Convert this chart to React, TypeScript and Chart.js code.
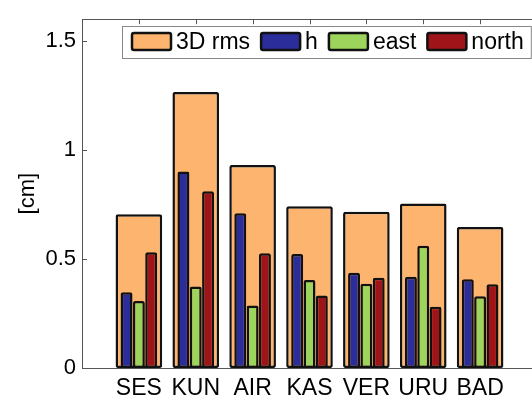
import React, { useEffect, useRef } from 'react';
import { Chart, registerables } from 'chart.js';

Chart.register(...registerables);

// ---- data ----
const stations = ['SES', 'KUN', 'AIR', 'KAS', 'VER', 'URU', 'BAD'];
const rms3d = [0.705, 1.266, 0.931, 0.742, 0.717, 0.755, 0.647];
const hVals = [0.347, 0.901, 0.71, 0.523, 0.437, 0.419, 0.407];
const eastVals = [0.307, 0.374, 0.287, 0.404, 0.386, 0.561, 0.329];
const northVals = [0.531, 0.811, 0.526, 0.332, 0.414, 0.281, 0.384];
const yTicks = [0, 0.5, 1, 1.5];
const yTickLabels = ['0', '0.5', '1', '1.5'];
const yMax = 1.6;
const seriesLabels = ['3D rms', 'h', 'east', 'north'];
const seriesColors = ['#FDB46F', '#2B2D9B', '#9CD45C', '#9E1419'];

const FONT = '"Liberation Sans", Arial, Helvetica, sans-serif';
const TEXT = '#000';

// pad with an empty slot on each side so the x range runs 0..8 like the original axes
const padArr = (a: (number | null)[]) => [null, ...a, null];
const xLabels = ['', ...stations, ''];

const framePlugin = {
  id: 'frame',
  beforeDatasetsDraw(chart: any) {
    const { ctx, chartArea: a, scales } = chart;
    ctx.save();
    ctx.strokeStyle = '#555';
    ctx.lineWidth = 1;
    ctx.strokeRect(Math.round(a.left) + 0.5, Math.round(a.top) + 0.5, Math.round(a.right - a.left), Math.round(a.bottom - a.top));
    const tl = 5;
    ctx.beginPath();
    yTicks.forEach((v) => {
      const y = Math.round(scales.y.getPixelForValue(v)) + 0.5;
      ctx.moveTo(a.left, y);
      ctx.lineTo(a.left + tl, y);
      ctx.moveTo(a.right, y);
      ctx.lineTo(a.right - tl, y);
    });
    stations.forEach((_, i) => {
      const x = Math.round(scales.x.getPixelForValue(i + 1)) + 0.5;
      ctx.moveTo(x, a.top);
      ctx.lineTo(x, a.top + tl);
      ctx.moveTo(x, a.bottom);
      ctx.lineTo(x, a.bottom - tl);
    });
    ctx.stroke();
    ctx.restore();
  },
};

const boxLegendPlugin = {
  id: 'boxLegend',
  afterDraw(chart: any) {
    const { ctx, chartArea: a } = chart;
    ctx.save();
    ctx.font = `23px ${FONT}`;
    const sw = 41, sh = 19, gapT = 4, gapI = 10, padL = 9, padR = 7, boxH = 32;
    const items = chart.data.datasets.map((d: any) => ({
      label: d.label,
      color: d.backgroundColor,
      w: ctx.measureText(d.label).width,
    }));
    const total =
      padL + padR + items.reduce((s: number, it: any) => s + sw + gapT + it.w, 0) + gapI * (items.length - 1);
    const right = a.right - 6;
    const left = Math.round(right - total);
    const top = Math.round(a.top + 7);
    ctx.fillStyle = '#fff';
    ctx.fillRect(left, top, total, boxH);
    ctx.strokeStyle = '#888';
    ctx.lineWidth = 1;
    ctx.strokeRect(left + 0.5, top + 0.5, total, boxH);
    let x = left + padL;
    items.forEach((it: any) => {
      ctx.beginPath();
      (ctx as any).roundRect(x + 1, top + 7, sw - 2, sh - 2, 2);
      ctx.fillStyle = it.color;
      ctx.fill();
      ctx.lineWidth = 2.5;
      ctx.strokeStyle = '#111';
      ctx.stroke();
      ctx.fillStyle = TEXT;
      ctx.textBaseline = 'middle';
      ctx.textAlign = 'left';
      ctx.fillText(it.label, x + sw + gapT, top + boxH / 2 + 1);
      x += sw + gapT + it.w + gapI;
    });
    ctx.restore();
  },
};

export default function App() {
  const ref = useRef<HTMLCanvasElement | null>(null);

  useEffect(() => {
    if (!ref.current) return;
    const compBar = {
      grouped: true,
      order: 0,
      barPercentage: 0.97,
      categoryPercentage: 0.65,
      borderColor: '#111',
      borderWidth: 2.5,
      borderSkipped: false,
      borderRadius: 2,
    };
    const chart = new Chart(ref.current, {
      type: 'bar',
      data: {
        labels: xLabels,
        datasets: [
          {
            label: seriesLabels[0],
            data: padArr(rms3d),
            backgroundColor: seriesColors[0],
            borderColor: '#111',
            borderWidth: 2.5,
            borderSkipped: false,
            borderRadius: 2,
            grouped: false,
            order: 1,
            barPercentage: 0.82,
            categoryPercentage: 1,
          } as any,
          { label: seriesLabels[1], data: padArr(hVals), backgroundColor: seriesColors[1], ...compBar } as any,
          { label: seriesLabels[2], data: padArr(eastVals), backgroundColor: seriesColors[2], ...compBar } as any,
          { label: seriesLabels[3], data: padArr(northVals), backgroundColor: seriesColors[3], ...compBar } as any,
        ],
      },
      options: {
        animation: false,
        responsive: false,
        devicePixelRatio: 1,
        layout: { padding: { top: 11, right: 8, left: 0, bottom: 0 } },
        plugins: {
          legend: { display: false },
          tooltip: { enabled: false },
        },
        scales: {
          x: {
            type: 'category',
            offset: false,
            grid: { display: false, drawTicks: false },
            border: { display: false },
            ticks: {
              autoSkip: false,
              maxRotation: 0,
              minRotation: 0,
              padding: 7,
              color: TEXT,
              font: { family: FONT, size: 23 },
            },
            afterFit: (s: any) => {
              s.height = 32;
            },
          },
          y: {
            min: 0,
            max: yMax,
            grid: { display: false, drawTicks: false },
            border: { display: false },
            ticks: {
              padding: 6,
              color: TEXT,
              font: { family: FONT, size: 22 },
              callback: (_v: any, i: number) => yTickLabels[i],
            },
            afterBuildTicks: (s: any) => {
              s.ticks = yTicks.map((v) => ({ value: v }));
            },
            afterFit: (s: any) => {
              s.width = 82;
            },
            title: {
              display: true,
              text: '[cm]',
              color: TEXT,
              font: { family: FONT, size: 22 },
              padding: { top: 15, bottom: 0 },
            },
          },
        },
      },
      plugins: [framePlugin, boxLegendPlugin],
    });
    return () => chart.destroy();
  }, []);

  return (
    <div
      style={{
        position: 'fixed',
        left: 0,
        top: 0,
        width: 532,
        height: 400,
        overflow: 'hidden',
        background: '#fff',
      }}
    >
      <canvas ref={ref} width={545} height={400} style={{ display: 'block', width: 545, height: 400 }} />
    </div>
  );
}
